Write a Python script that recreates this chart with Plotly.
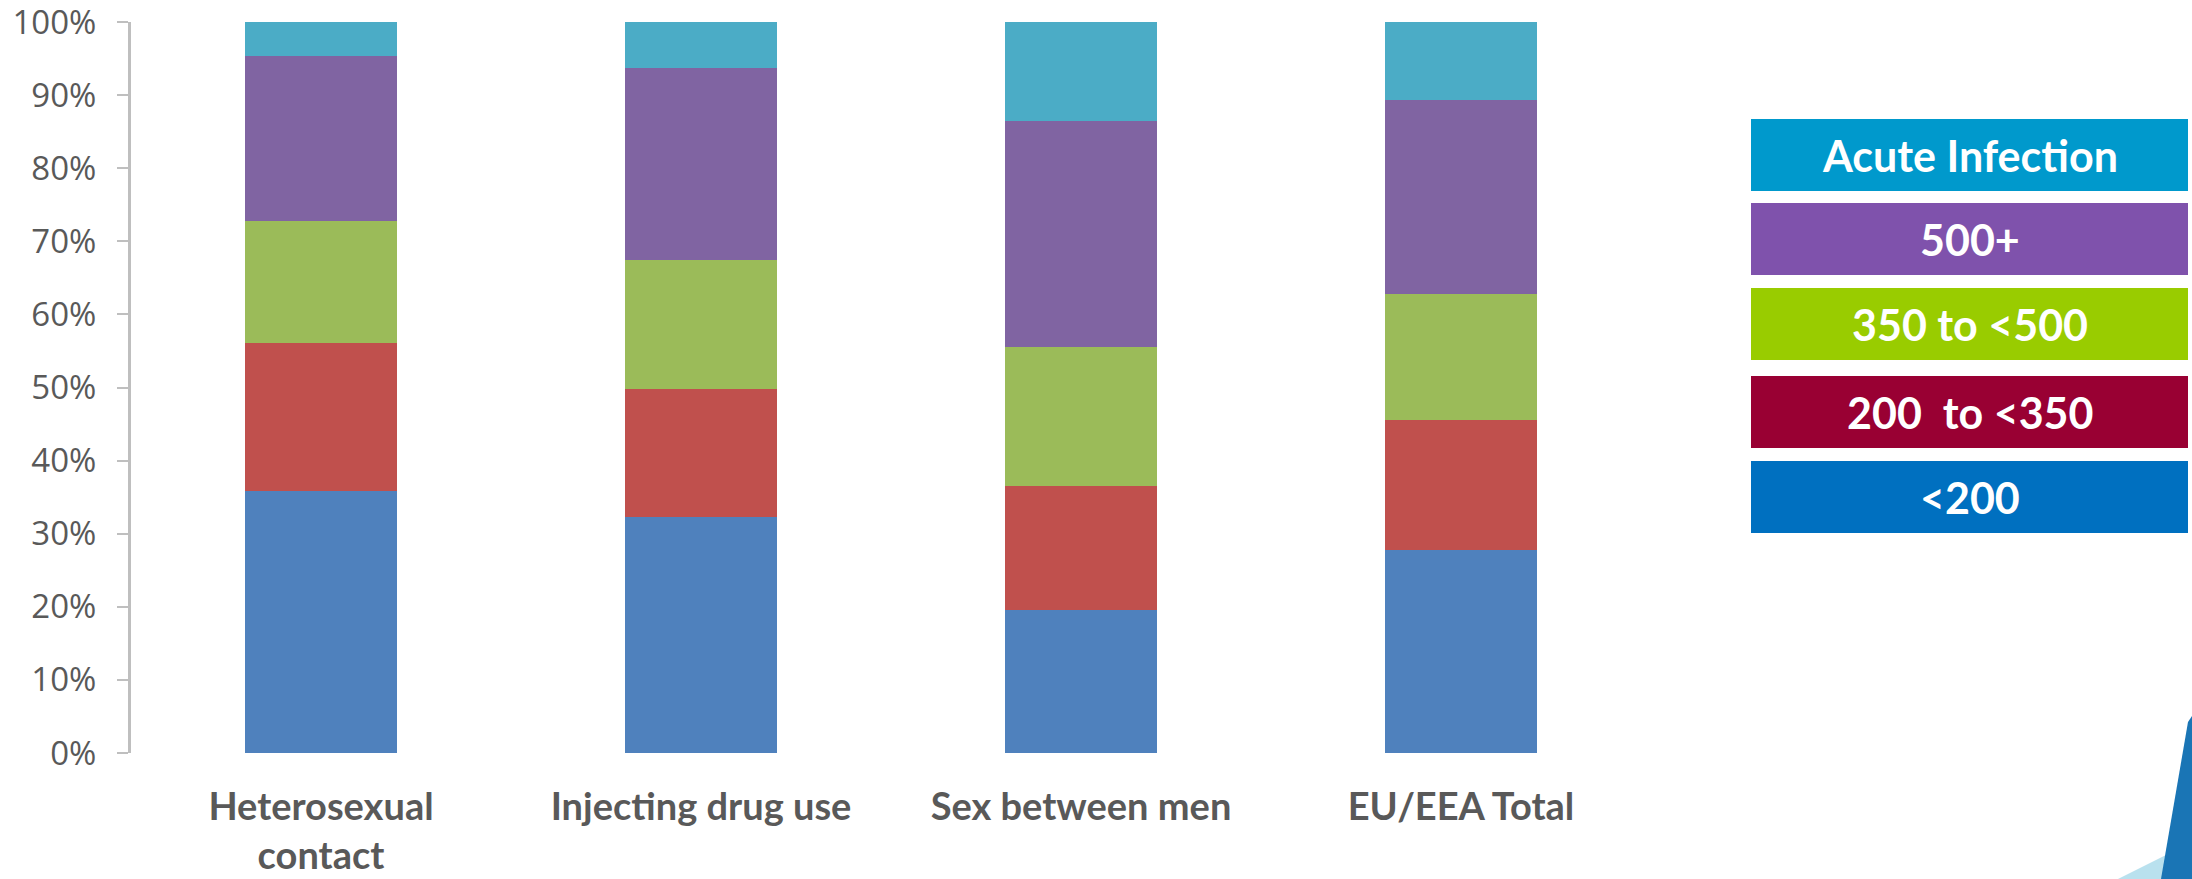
import plotly.graph_objects as go

categories = ["Heterosexual<br>contact", "Injecting drug use", "Sex between men", "EU/EEA Total"]
series_names = ["<200", "200  to <350", "350 to <500", "500+", "Acute Infection"]
lt200 = [35.9, 32.3, 19.6, 27.8]
s200_350 = [20.2, 17.5, 16.9, 17.8]
s350_500 = [16.7, 17.7, 19.1, 17.2]
s500p = [22.5, 26.2, 30.9, 26.5]
acute = [4.7, 6.3, 13.5, 10.7]
series_values = [lt200, s200_350, s350_500, s500p, acute]
bar_colors = ["#4F81BD", "#C0504D", "#9BBB59", "#8064A2", "#4BACC6"]
legend_colors = ["#0070C0", "#990033", "#99CC00", "#7F52AC", "#0099CC"]
tick_vals = [0, 10, 20, 30, 40, 50, 60, 70, 80, 90, 100]
tick_text = [f"{v}%" for v in tick_vals]

W, H = 2192, 879
L, R, T, B = 131, 541, 22, 126
PW, PH = W - L - R, H - T - B

def px(x):
    return (x - L) / PW

def py(y):
    return (H - B - y) / PH

fig = go.Figure()
for name, vals, col in zip(series_names, series_values, bar_colors):
    fig.add_trace(go.Bar(x=categories, y=vals, name=name, marker=dict(color=col, line=dict(width=0)),
                         showlegend=False))

shapes = []
annotations = []
# custom legend boxes (top to bottom: Acute, 500+, 350-500, 200-350, <200)
box_tops = [119, 203, 288, 376, 461]
order = [4, 3, 2, 1, 0]
for top, idx in zip(box_tops, order):
    shapes.append(dict(type="rect", xref="paper", yref="paper", x0=px(1751), x1=px(2188),
                       y0=py(top + 72), y1=py(top), fillcolor=legend_colors[idx], line=dict(width=0), layer="above"))
    annotations.append(dict(xref="paper", yref="paper", x=px(1970), y=py(top + 36), text=f"<b>{series_names[idx].replace('<', '&lt;')}</b>",
                            showarrow=False, xanchor="center", yanchor="middle",
                            font=dict(family="Lato", size=43, color="white")))

# decorative corner shapes
shapes.append(dict(type="path", xref="paper", yref="paper",
                   path=f"M {px(2118)},{py(879)} L {px(2192)},{py(842)} L {px(2192)},{py(879)} Z",
                   fillcolor="#B9E1EE", line=dict(width=0)))
shapes.append(dict(type="path", xref="paper", yref="paper",
                   path=f"M {px(2188)},{py(722)} L {px(2192)},{py(716)} L {px(2192)},{py(879)} L {px(2161)},{py(879)} Z",
                   fillcolor="#1A75B5", line=dict(width=0)))

fig.update_layout(
    barmode="stack",
    bargap=0.6,
    width=W, height=H,
    margin=dict(l=L, r=R, t=T, b=B, pad=0, autoexpand=False),
    plot_bgcolor="white", paper_bgcolor="white",
    shapes=shapes, annotations=annotations,
    xaxis=dict(showgrid=False, showline=False, ticks="", zeroline=False, automargin=False,
               tickfont=dict(family="Lato", size=38, color="#595959", weight="bold"),
               ticklabelstandoff=28, ticklabeloverflow="allow"),
    yaxis=dict(range=[0, 100], tickvals=tick_vals, ticktext=tick_text, showgrid=False, automargin=False,
               showline=True, linecolor="#BFBFBF", linewidth=3, ticks="outside", ticklen=11,
               tickwidth=2, tickcolor="#BFBFBF", zeroline=False, ticklabelstandoff=14,
               ticklabeloverflow="allow",
               tickfont=dict(family="Open Sans", size=33, color="#595959")),
)
fig.write_html("out.html")
